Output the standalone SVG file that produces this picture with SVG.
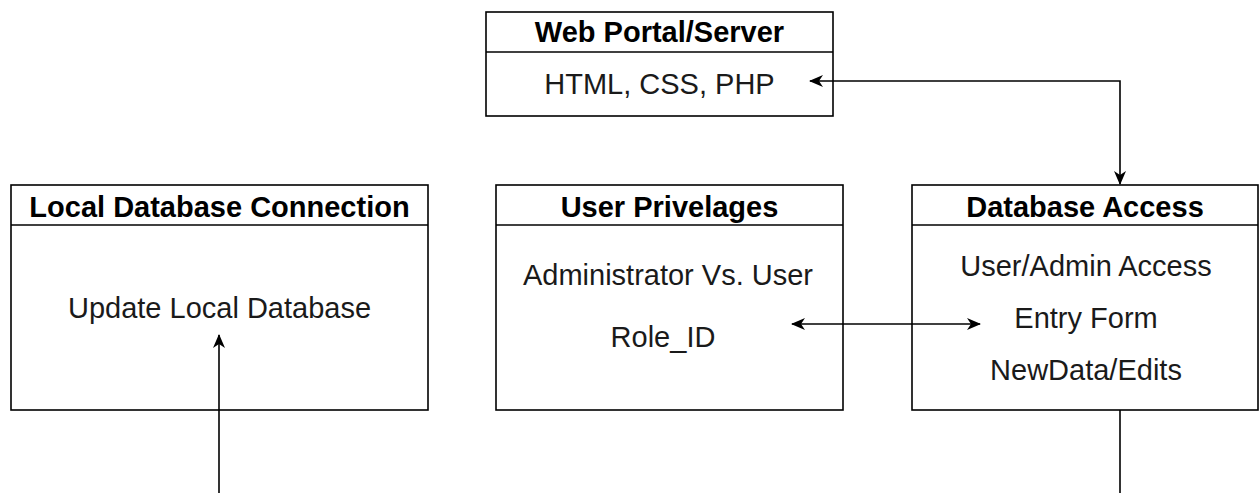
<svg xmlns="http://www.w3.org/2000/svg" width="1260" height="493" viewBox="0 0 1260 493">
  <defs>
    <style>
      .box { fill: #ffffff; stroke: #000000; stroke-width: 1.6; }
      .sep { stroke: #000000; stroke-width: 1.6; }
      .title { font-family: "Liberation Sans", Arial, sans-serif; font-size: 29px; font-weight: bold; fill: #000000; text-anchor: middle; }
      .body { font-family: "Liberation Sans", Arial, sans-serif; font-size: 29px; fill: #1a1a1a; text-anchor: middle; }
      .wire { fill: none; stroke: #000000; stroke-width: 1.6; }
    </style>
    <marker id="arrowEnd" viewBox="0 0 14 13" refX="13" refY="6.5" markerWidth="14" markerHeight="13" markerUnits="userSpaceOnUse" orient="auto">
      <path d="M0,0.5 L14,6.5 L0,12.5 L4,6.5 Z" fill="#000000"/>
    </marker>
    <marker id="arrowStart" viewBox="0 0 14 13" refX="1" refY="6.5" markerWidth="14" markerHeight="13" markerUnits="userSpaceOnUse" orient="auto">
      <path d="M14,0.5 L0,6.5 L14,12.5 L10,6.5 Z" fill="#000000"/>
    </marker>
  </defs>

  <rect width="1260" height="493" fill="#ffffff"/>

  <!-- Web Portal / Server -->
  <g id="web-portal">
    <rect class="box" x="486" y="12" width="347" height="104"/>
    <line class="sep" x1="486" y1="52" x2="833" y2="52"/>
    <text class="title" x="659.5" y="42">Web Portal/Server</text>
    <text class="body" x="659.5" y="94">HTML, CSS, PHP</text>
  </g>

  <!-- Local Database Connection -->
  <g id="local-db">
    <rect class="box" x="11" y="185" width="417" height="225"/>
    <line class="sep" x1="11" y1="225" x2="428" y2="225"/>
    <text class="title" x="219.5" y="217">Local Database Connection</text>
    <text class="body" x="219.5" y="318">Update Local Database</text>
  </g>

  <!-- User Privelages -->
  <g id="user-privelages">
    <rect class="box" x="496" y="185" width="347" height="225"/>
    <line class="sep" x1="496" y1="225" x2="843" y2="225"/>
    <text class="title" x="669.5" y="217">User Privelages</text>
    <text class="body" x="668" y="285">Administrator Vs. User</text>
    <text class="body" x="663" y="347">Role_ID</text>
  </g>

  <!-- Database Access -->
  <g id="database-access">
    <rect class="box" x="912" y="185" width="346" height="225"/>
    <line class="sep" x1="912" y1="225" x2="1258" y2="225"/>
    <text class="title" x="1085" y="217">Database Access</text>
    <text class="body" x="1086" y="276">User/Admin Access</text>
    <text class="body" x="1086" y="328">Entry Form</text>
    <text class="body" x="1086" y="380">NewData/Edits</text>
  </g>

  <!-- Connectors -->
  <g id="connectors">
    <path class="wire" d="M810,81 L1120,81 L1120,184" marker-start="url(#arrowStart)" marker-end="url(#arrowEnd)"/>
    <path class="wire" d="M792,324 L980,324" marker-start="url(#arrowStart)" marker-end="url(#arrowEnd)"/>
    <path class="wire" d="M219,493 L219,335" marker-end="url(#arrowEnd)"/>
    <path class="wire" d="M1120,410 L1120,493"/>
  </g>
</svg>
